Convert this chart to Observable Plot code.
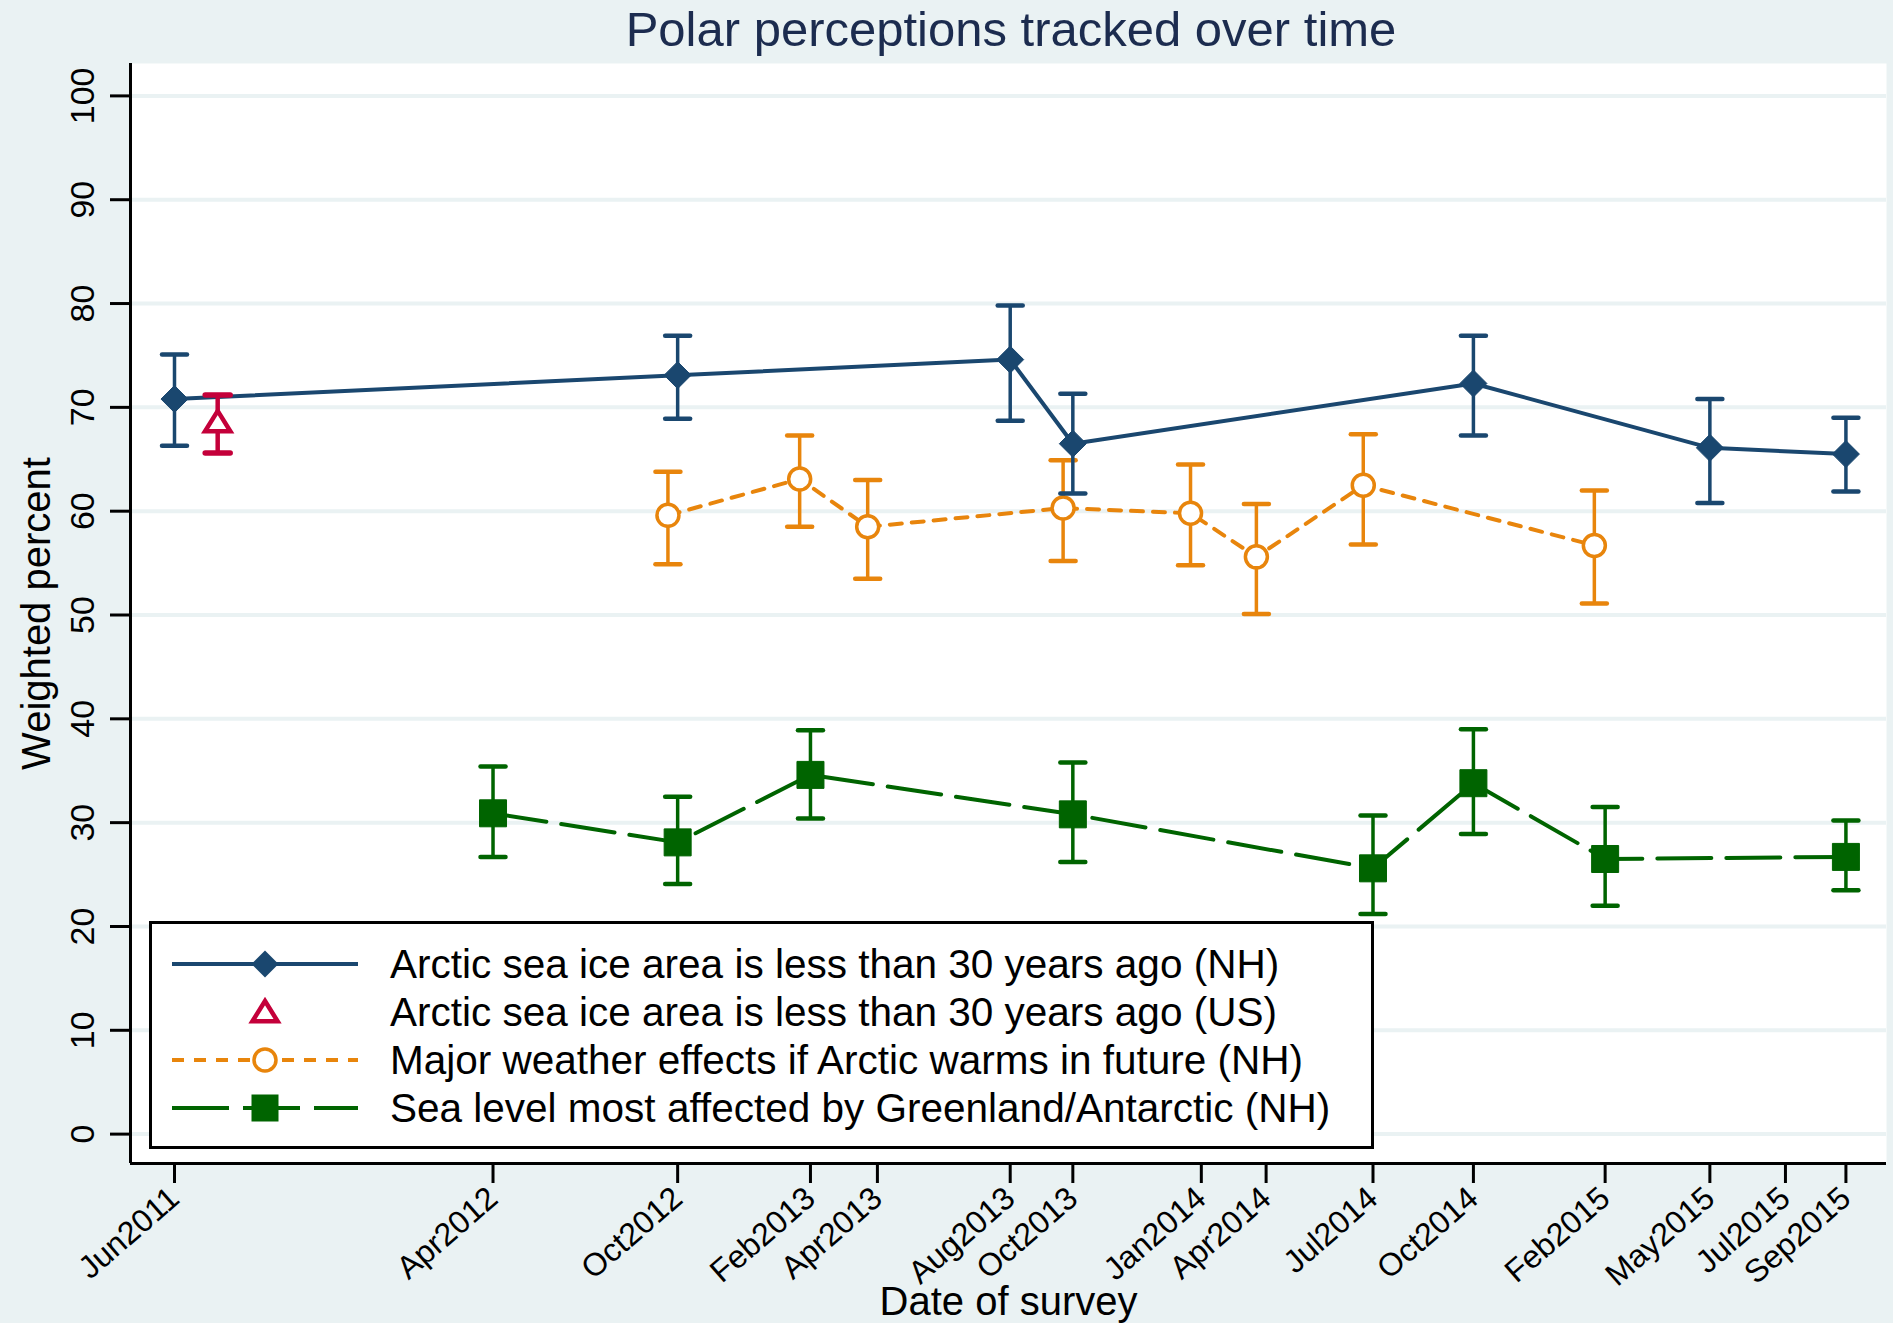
<!DOCTYPE html>
<html>
<head>
<meta charset="utf-8">
<script src="https://cdn.jsdelivr.net/npm/d3@7"></script>
<script src="https://cdn.jsdelivr.net/npm/@observablehq/plot@0.6"></script>
<style>
  body { margin: 0; background: #eaf2f3; }
  #wrap { position: relative; width: 1893px; height: 1323px; overflow: hidden; font-family: "Liberation Sans", Arial, sans-serif; }
  #title { height: 58px; line-height: 58px; padding-left: 136px; width: 1750px; text-align: center; font-size: 49px; color: #1c2c4f; white-space: nowrap; }
  #chart svg { display: block; }
  #legend { position: absolute; left: 149px; top: 921px; width: 1225px; height: 228px; box-sizing: border-box; border: 3px solid #000; background: #fff; padding-top: 16px; }
  .row { height: 48px; display: flex; align-items: center; padding-left: 20px; }
  .row svg { flex: none; }
  .row span { margin-left: 32px; font-size: 40.5px; color: #000; white-space: nowrap; }
</style>
</head>
<body>
<div id="wrap">
  <div id="title">Polar perceptions tracked over time</div>
  <div id="chart"></div>
  <div id="legend"></div>
</div>
<script>
// ---------- data ----------
const tickDates = ["2011-06-25","2012-04-15","2012-10-03","2013-02-03","2013-04-06","2013-08-07","2013-10-04","2014-01-31","2014-04-01","2014-07-09","2014-10-10","2015-02-09","2015-05-17","2015-07-26","2015-09-20"];
const tickLabels = ["Jun2011","Apr2012","Oct2012","Feb2013","Apr2013","Aug2013","Oct2013","Jan2014","Apr2014","Jul2014","Oct2014","Feb2015","May2015","Jul2015","Sep2015"];
const yTicks = [0,10,20,30,40,50,60,70,80,90,100];

// Arctic sea ice area is less than 30 years ago (NH)
const iceNHDates = ["2011-06-25","2012-10-03","2013-08-07","2013-10-04","2014-10-10","2015-05-17","2015-09-20"];
const iceNHValue = [70.8, 73.1, 74.6, 66.5, 72.3, 66.1, 65.5];
const iceNHLow   = [66.3, 68.9, 68.7, 61.7, 67.3, 60.8, 61.9];
const iceNHHigh  = [75.1, 76.9, 79.8, 71.3, 76.9, 70.8, 69.0];

// Arctic sea ice area is less than 30 years ago (US)
const iceUSDates = ["2011-08-04"];
const iceUSValue = [68.6];
const iceUSLow   = [65.6];
const iceUSHigh  = [71.2];

// Major weather effects if Arctic warms in future (NH)
const weatherDates = ["2012-09-24","2013-01-24","2013-03-28","2013-09-25","2014-01-21","2014-03-23","2014-06-30","2015-01-30"];
const weatherValue = [59.6, 63.1, 58.5, 60.3, 59.8, 55.6, 62.5, 56.7];
const weatherLow   = [54.9, 58.5, 53.5, 55.2, 54.8, 50.1, 56.8, 51.1];
const weatherHigh  = [63.8, 67.3, 63.0, 64.9, 64.5, 60.7, 67.4, 62.0];

// Sea level most affected by Greenland/Antarctic (NH)
const seaDates = ["2012-04-15","2012-10-03","2013-02-03","2013-10-04","2014-07-09","2014-10-10","2015-02-09","2015-09-20"];
const seaValue = [30.9, 28.1, 34.6, 30.8, 25.6, 33.8, 26.5, 26.7];
const seaLow   = [26.7, 24.1, 30.4, 26.2, 21.2, 28.9, 22.0, 23.5];
const seaHigh  = [35.4, 32.5, 38.9, 35.8, 30.7, 39.0, 31.5, 30.2];

const seriesNames = [
  "Arctic sea ice area is less than 30 years ago (NH)",
  "Arctic sea ice area is less than 30 years ago (US)",
  "Major weather effects if Arctic warms in future (NH)",
  "Sea level most affected by Greenland/Antarctic (NH)"
];

// ---------- styles ----------
const NAVY = "#1a476f", RED = "#c4003a", ORANGE = "#e8850c", GREEN = "#006400";
const xDomain = [new Date("2011-05-15T06:00Z"), new Date("2015-10-27T14:00Z")];
const yDomain = [-2.83, 103.12];

const table = (dates, v, lo, hi) => dates.map((d, i) => ({date: new Date(d), v: v[i], lo: lo[i], hi: hi[i]}));
const iceNH = table(iceNHDates, iceNHValue, iceNHLow, iceNHHigh);
const iceUS = table(iceUSDates, iceUSValue, iceUSLow, iceUSHigh);
const weather = table(weatherDates, weatherValue, weatherLow, weatherHigh);
const sea = table(seaDates, seaValue, seaLow, seaHigh);

const labelMap = new Map(tickDates.map((d, i) => [+new Date(d), tickLabels[i]]));

// custom symbols (size = r*r*PI)
const half = s => Math.sqrt(s / Math.PI);
const capSym = {draw(c, s) { const h = half(s); c.moveTo(-h, 0); c.lineTo(h, 0); }};
const diamondSym = {draw(c, s) { const h = half(s); c.moveTo(0, -h); c.lineTo(h, 0); c.lineTo(0, h); c.lineTo(-h, 0); c.closePath(); }};
const squareSym = {draw(c, s) { const h = half(s); c.rect(-h, -h, 2 * h, 2 * h); }};
const triSym = {draw(c, s) { const h = half(s); c.moveTo(0, -h); c.lineTo(1.15 * h, 0.85 * h); c.lineTo(-1.15 * h, 0.85 * h); c.closePath(); }};

function errorMarks(data, color, sw = 3.5, cw = 4.5) {
  return [
    Plot.ruleX(data, {x: "date", y1: "lo", y2: "hi", stroke: color, strokeWidth: sw}),
    Plot.dot(data, {x: "date", y: "hi", symbol: capSym, r: 12.5, stroke: color, strokeWidth: cw, fill: "none", strokeLinecap: "round"}),
    Plot.dot(data, {x: "date", y: "lo", symbol: capSym, r: 12.5, stroke: color, strokeWidth: cw, fill: "none", strokeLinecap: "round"})
  ];
}

const chart = Plot.plot({
  width: 1893,
  height: 1265,
  marginLeft: 130,
  marginRight: 7,
  marginTop: 5,
  marginBottom: 160,
  style: {background: "transparent", fontFamily: "'Liberation Sans', Arial, sans-serif", overflow: "visible", color: "#000"},
  x: {type: "utc", domain: xDomain},
  y: {domain: yDomain},
  marks: [
    Plot.frame({fill: "white", stroke: null}),
    Plot.gridY(yTicks, {stroke: "#eaf2f3", strokeOpacity: 1, strokeWidth: 4}),
    Plot.axisY(yTicks, {tickSize: 20, tickRotate: -90, tickPadding: 17, fontSize: 34, stroke: "#000", strokeWidth: 3, label: null}),
    Plot.axisX(tickDates.map(d => new Date(d)), {tickSize: 20, tickRotate: -41, tickPadding: 10, fontSize: 32, stroke: "#000", strokeWidth: 3, label: null, tickFormat: d => labelMap.get(+d)}),
    Plot.ruleX([xDomain[0]], {stroke: "#000", strokeWidth: 3}),
    Plot.ruleY([yDomain[0]], {stroke: "#000", strokeWidth: 3}),
    Plot.text(["Weighted percent"], {text: d => d, frameAnchor: "left", textAnchor: "middle", dx: -93, rotate: -90, fontSize: 40, fill: "#000"}),
    Plot.text(["Date of survey"], {text: d => d, frameAnchor: "bottom", dy: 151, fontSize: 40, fill: "#000"}),

    // Sea level (green)
    ...errorMarks(sea, GREEN),
    Plot.line(sea, {x: "date", y: "v", stroke: GREEN, strokeWidth: 4, strokeDasharray: "54,15"}),
    Plot.dot(sea, {x: "date", y: "v", symbol: squareSym, r: 13.5, fill: GREEN, stroke: GREEN, strokeWidth: 1}),

    // Weather (orange)
    ...errorMarks(weather, ORANGE),
    Plot.line(weather, {x: "date", y: "v", stroke: ORANGE, strokeWidth: 4, strokeDasharray: "12,10"}),
    Plot.dot(weather, {x: "date", y: "v", symbol: "circle", r: 11, fill: "white", stroke: ORANGE, strokeWidth: 3.5}),

    // Sea ice NH (navy)
    ...errorMarks(iceNH, NAVY),
    Plot.line(iceNH, {x: "date", y: "v", stroke: NAVY, strokeWidth: 4}),
    Plot.dot(iceNH, {x: "date", y: "v", symbol: diamondSym, r: 13.5, fill: NAVY, stroke: NAVY, strokeWidth: 1}),

    // Sea ice US (red)
    ...errorMarks(iceUS, RED, 4.5, 5.5),
    Plot.dot(iceUS, {x: "date", y: "v", symbol: triSym, r: 11, fill: "white", stroke: RED, strokeWidth: 4.5})
  ]
});
document.getElementById("chart").appendChild(chart);

// ---------- legend ----------
const legendSymbols = [
  `<line x1="0" y1="24" x2="186" y2="24" stroke="${NAVY}" stroke-width="4"/><path d="M93,10.5L106.5,24L93,37.5L79.5,24Z" fill="${NAVY}"/>`,
  `<path d="M93,13L105.6,33.3L80.4,33.3Z" fill="white" stroke="${RED}" stroke-width="4.5"/>`,
  `<line x1="0" y1="24" x2="186" y2="24" stroke="${ORANGE}" stroke-width="4" stroke-dasharray="12,10"/><circle cx="93" cy="24" r="11" fill="white" stroke="${ORANGE}" stroke-width="3.5"/>`,
  `<line x1="0" y1="24" x2="186" y2="24" stroke="${GREEN}" stroke-width="4" stroke-dasharray="57,14"/><rect x="79.5" y="10.5" width="27" height="27" fill="${GREEN}"/>`
];
const legend = document.getElementById("legend");
seriesNames.forEach((name, i) => {
  const row = document.createElement("div");
  row.className = "row";
  row.innerHTML = `<svg width="186" height="48" viewBox="0 0 186 48">${legendSymbols[i]}</svg><span>${name}</span>`;
  legend.appendChild(row);
});
</script>
</body>
</html>
